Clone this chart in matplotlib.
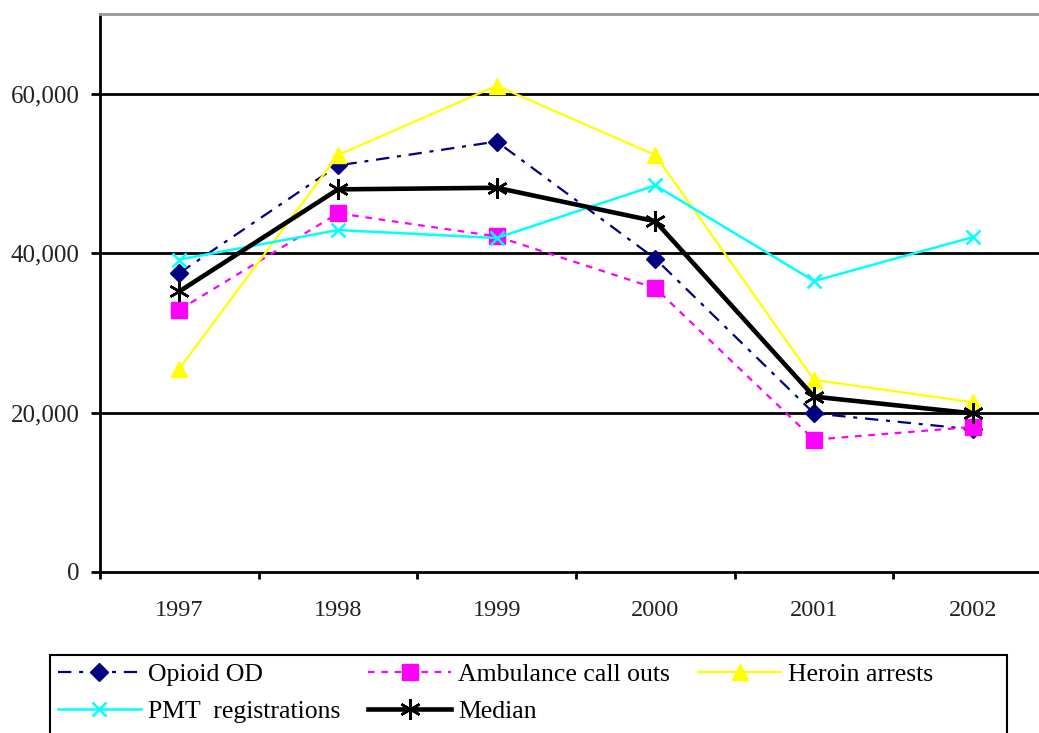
import matplotlib
matplotlib.use("Agg")
import matplotlib.pyplot as plt
from matplotlib.ticker import FuncFormatter
from matplotlib.patches import Rectangle

years = ["1997", "1998", "1999", "2000", "2001", "2002"]
opioid_od = [37500, 51000, 54000, 39300, 19900, 17900]
ambulance = [32900, 45000, 42100, 35600, 16600, 18200]
heroin = [25500, 52300, 61000, 52300, 24100, 21300]
pmt = [39200, 42900, 41900, 48500, 36500, 42000]
median = [35200, 48000, 48200, 44000, 22000, 19900]

plt.rcParams['font.family'] = ['Liberation Serif', 'DejaVu Serif']

W, H = 1039, 733
fig = plt.figure(figsize=(W/100, H/100), dpi=100)
ax = fig.add_axes([100/W, 1-572/H, 952/W, 558/H])

x = list(range(len(years)))
l1, = ax.plot(x, opioid_od, color='#000080', lw=1.6, ls=(0, (6, 3.5, 1.8, 3.5)),
              marker='D', ms=9, label='Opioid OD', clip_on=False)
l2, = ax.plot(x, ambulance, color='#ff00ff', lw=1.6, ls=(0, (3, 3)),
              marker='s', ms=11.5, label='Ambulance call outs', clip_on=False)
l3, = ax.plot(x, heroin, color='#ffff00', lw=1.6, ls='-',
              marker='^', ms=11, label='Heroin arrests', clip_on=False)
l4, = ax.plot(x, pmt, color='#00ffff', lw=1.8, ls='-',
              marker='x', ms=10, mew=1.8, label='PMT  registrations', clip_on=False)
l5, = ax.plot(x, median, color='black', lw=3.3, ls='-',
              marker=(6, 2, 0), ms=15, mew=1.8, label='Median', clip_on=False)

ax.set_xlim(-0.5, len(years) - 0.5)
ax.set_ylim(0, 70000)
ax.set_yticks([0, 20000, 40000, 60000])
ax.yaxis.set_major_formatter(FuncFormatter(lambda v, p: f"{int(v):,}"))
ax.set_xticks([i - 0.5 for i in range(len(years))])
ax.set_xticklabels([])
ax.set_xticks(x, minor=True)
ax.set_xticklabels(years, minor=True)
ax.tick_params(axis='x', which='minor', length=0, pad=20, labelsize=17.5)
ax.tick_params(axis='x', which='major', length=5, width=2, direction='out')
ax.tick_params(axis='y', length=6.5, width=2, direction='out', labelsize=18, pad=8)
for t in ax.get_yticklabels() + ax.get_xticklabels(minor=True):
    t.set_color('#222222')

for yv in [20000, 40000, 60000]:
    ax.axhline(yv, color='black', lw=2, zorder=0.5)

ax.spines['left'].set_linewidth(2)
ax.spines['bottom'].set_linewidth(2)
ax.spines['top'].set_color('#999999')
ax.spines['top'].set_linewidth(2)
ax.spines['right'].set_visible(False)

handles = [l1, l4, l2, l5, l3]
leg = fig.legend(handles=handles, labels=[h.get_label() for h in handles],
                 ncol=3, loc='upper left', bbox_to_anchor=(50/W, 1-655/H),
                 frameon=False, fontsize=18.5, handlelength=3.23,
                 handletextpad=0.27, columnspacing=1.1, borderpad=0.3,
                 labelspacing=0.55, borderaxespad=0)

fig.patches.append(Rectangle((50/W, -10/H), (1007-50)/W, (H + 10 - 655)/H,
                             transform=fig.transFigure, fill=False,
                             edgecolor='black', linewidth=1.5))

fig.savefig('out.png', dpi=100)
